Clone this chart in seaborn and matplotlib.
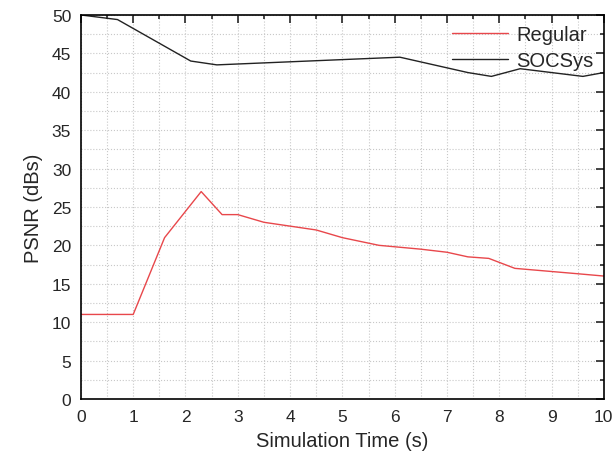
import pandas as pd
import numpy as np
import matplotlib
matplotlib.use("Agg")
import matplotlib.pyplot as plt
import seaborn as sns
from matplotlib.ticker import MultipleLocator

# Data
regular_t = [0, 1, 1.6, 2.3, 2.7, 3.0, 3.5, 4.5, 5.0, 5.7, 6.5, 7.0, 7.4, 7.8, 8.3, 9.5, 10]
regular_psnr = [11, 11, 21, 27, 24, 24, 23, 22, 21, 20, 19.5, 19.1, 18.5, 18.3, 17, 16.3, 16]
socsys_t = [0, 0.7, 2.1, 2.6, 6.1, 7.4, 7.85, 8.4, 9.6, 10]
socsys_psnr = [50, 49.4, 44, 43.5, 44.5, 42.5, 42, 43, 42, 42.5]

df = pd.concat([
    pd.DataFrame({'time': regular_t, 'psnr': regular_psnr, 'method': 'Regular'}),
    pd.DataFrame({'time': socsys_t, 'psnr': socsys_psnr, 'method': 'SOCSys'}),
], ignore_index=True)

sns.set_style('white')
plt.rcParams['font.family'] = ['Liberation Sans', 'DejaVu Sans']

fig = plt.figure(figsize=(6.13, 4.56), dpi=100)
ax = fig.add_axes([0.132, 0.123, 0.853, 0.842])

sns.lineplot(data=df, x='time', y='psnr', hue='method', sort=False,
             palette={'Regular': '#e8474b', 'SOCSys': '#222222'},
             linewidth=1.0, estimator=None, ax=ax)

ax.set_xlim(0, 10)
ax.set_ylim(0, 50)
ax.xaxis.set_major_locator(MultipleLocator(1))
ax.xaxis.set_minor_locator(MultipleLocator(0.5))
ax.yaxis.set_major_locator(MultipleLocator(5))
ax.yaxis.set_minor_locator(MultipleLocator(2.5))
ax.grid(True, which='both', linestyle=':', color='#c8c8c8', linewidth=0.8)
ax.tick_params(which='both', direction='in', top=True, right=True, labelsize=12.5, width=1.2)
ax.tick_params(which='major', length=6, pad=7)
ax.tick_params(which='minor', length=3)
for s in ax.spines.values():
    s.set_color('black')
    s.set_linewidth(1.2)

ax.set_xlabel('Simulation Time (s)', fontsize=14.5, labelpad=5)
ax.set_ylabel('PSNR (dBs)', fontsize=14.5, labelpad=6)
ax.legend(title=None, frameon=False, fontsize=14.5, loc='upper right',
          handlelength=2.8, handletextpad=0.4, borderaxespad=0.1, labelspacing=0.35)

fig.savefig('out.png', dpi=100)
